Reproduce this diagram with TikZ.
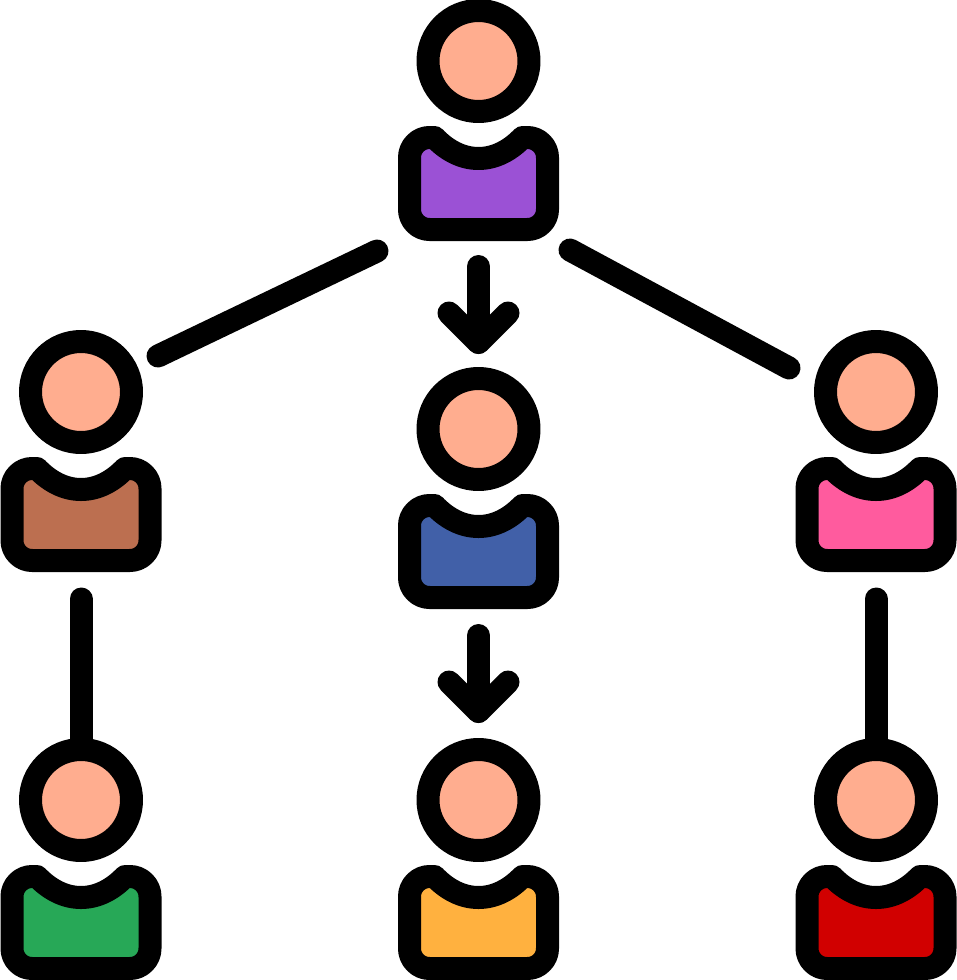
\documentclass[tikz,border=0pt]{standalone}
\usetikzlibrary{calc}
\definecolor{skin}{HTML}{FFAD8F}
\definecolor{cpurple}{HTML}{9B51D5}
\definecolor{cbrown}{HTML}{BC6F50}
\definecolor{cblue}{HTML}{4160A8}
\definecolor{cpink}{HTML}{FF5B9E}
\definecolor{cgreen}{HTML}{27A857}
\definecolor{corange}{HTML}{FFB13F}
\definecolor{cred}{HTML}{D10000}
\tikzset{
  outline/.style={draw=black,line width=23pt,line join=round},
  link/.style={draw=black,line width=23pt,line cap=round},
  pointer/.style={draw=black,line width=23pt,line cap=round,line join=round},
  personbox/.style={minimum width=161pt,minimum height=242pt,inner sep=0pt,outer sep=0pt},
}
\newcommand{\drawperson}[4]{%
  \node[personbox] (#1) at (#2,#3+59) {};
  \begin{scope}[shift={(#2,#3)}]
    \path[outline,fill=skin] (0,0) circle[radius=50.5pt];
    \path[outline,fill=#4]
      (-44,76.5) .. controls (-33,88) and (-18,97.5) .. (0,97.5)
      .. controls (18,97.5) and (33,88) .. (44,76.5)
      -- (49,76.5)
      .. controls (60,76.5) and (69,85.5) .. (69,96.5)
      -- (69,148.5)
      .. controls (69,159.5) and (60,168.5) .. (49,168.5)
      -- (-49,168.5)
      .. controls (-60,168.5) and (-69,159.5) .. (-69,148.5)
      -- (-69,96.5)
      .. controls (-69,85.5) and (-60,76.5) .. (-49,76.5)
      -- cycle;
  \end{scope}}
\begin{document}
\begin{tikzpicture}[x=1pt,y=-1pt]
\useasboundingbox (0,0) rectangle (957,980);
\coordinate (vla) at (81,599);
\coordinate (vlb) at (81,760);
\coordinate (vra) at (876,599);
\coordinate (vrb) at (876,760);
\draw[link] (vla) -- (vlb);
\draw[link] (vra) -- (vrb);
\drawperson{top}{478.5}{61}{cpurple}
\drawperson{left}{81}{392}{cbrown}
\drawperson{mid}{478.5}{429}{cblue}
\drawperson{right}{876}{392}{cpink}
\drawperson{bl}{81}{800}{cgreen}
\drawperson{bm}{478.5}{800}{corange}
\drawperson{br}{876}{800}{cred}
\coordinate (tl) at (377,251);
\coordinate (ll) at (158,356);
\coordinate (tr) at (570,250);
\coordinate (rr) at (789,368);
\draw[link] (tl) -- (ll);
\draw[link] (tr) -- (rr);
\draw[pointer] (478.5,266.5) -- (478.5,342.5);
\draw[pointer] (449,313) -- (478.5,342.5) -- (508,313);
\draw[pointer] (478.5,635.5) -- (478.5,711.5);
\draw[pointer] (449,682) -- (478.5,711.5) -- (508,682);
\end{tikzpicture}
\end{document}
